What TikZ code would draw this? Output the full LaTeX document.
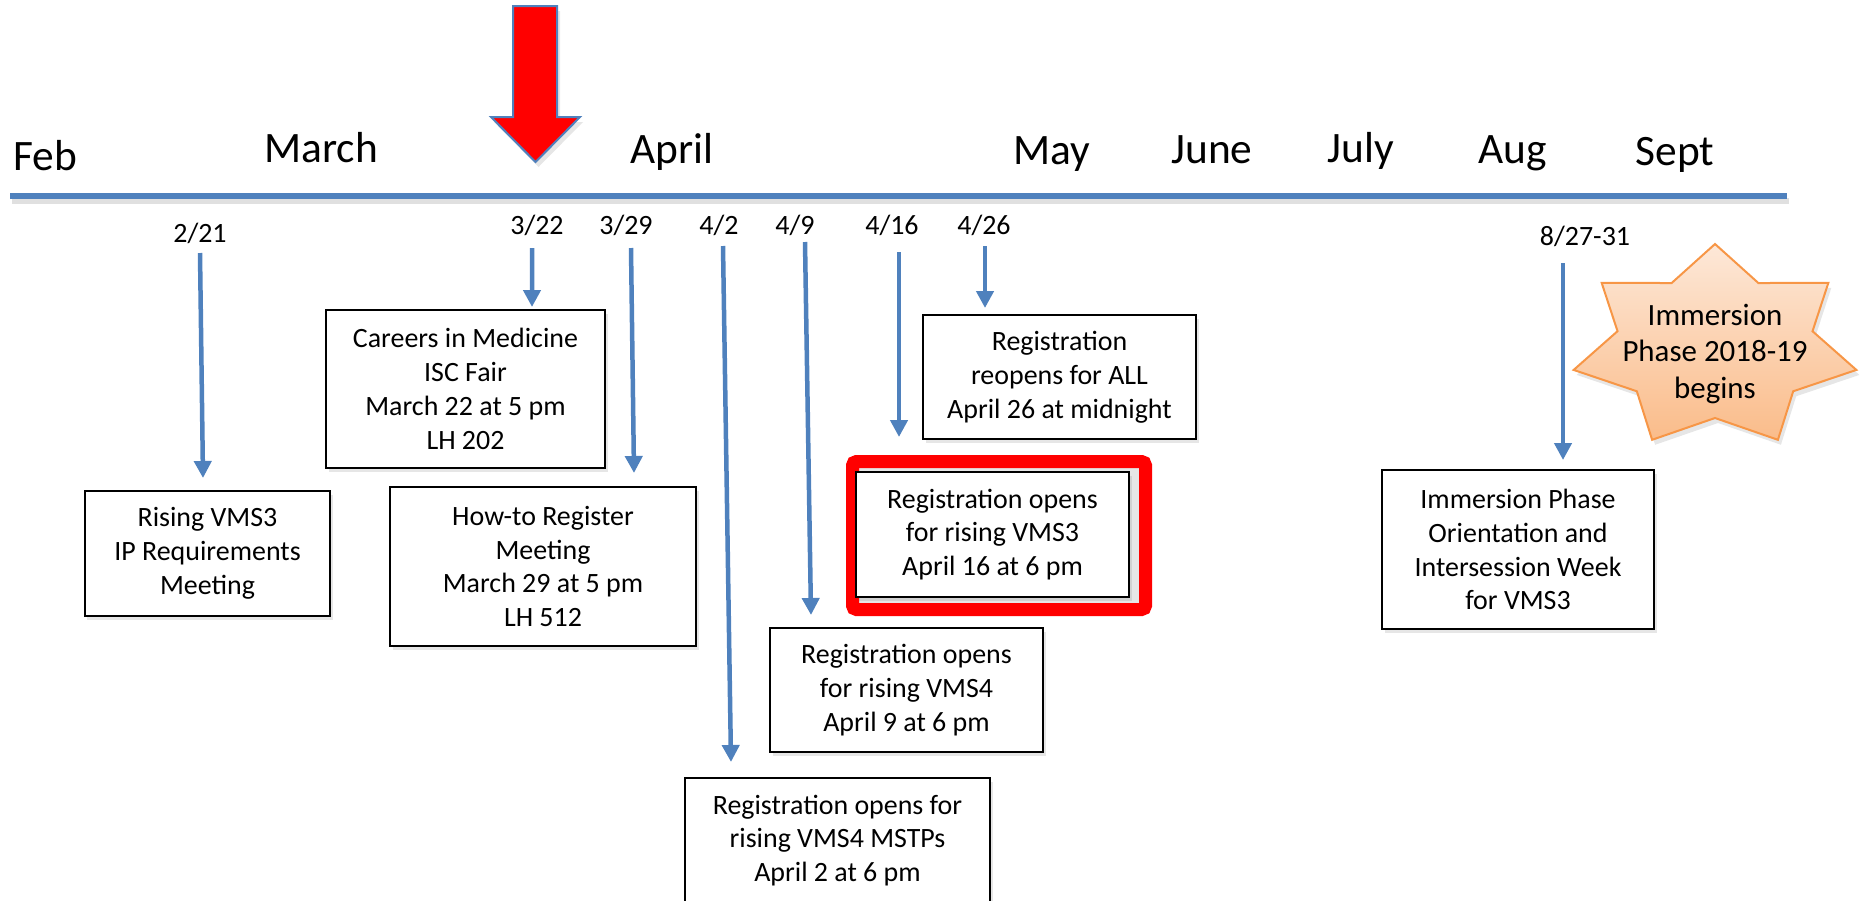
\documentclass[tikz,border=0pt]{standalone}
\usepackage{fontspec}
\setmainfont{Carlito}
\usetikzlibrary{arrows.meta}
\usetikzlibrary{shadows}
\definecolor{azul}{RGB}{79,129,189}
\definecolor{naranja}{RGB}{247,150,70}
\definecolor{durazno}{RGB}{253,232,216}
\definecolor{salmon}{RGB}{250,188,138}

\begin{document}
\begin{tikzpicture}[x=0.2mm, y=-0.2mm,
    mes/.style={anchor=base, inner sep=0pt, font=\fontsize{24.7}{29}\selectfont},
    fecha/.style={anchor=base, inner sep=0pt, font=\fontsize{15.9}{19.3}\selectfont},
    caja/.style={draw=black, line width=0.4mm, fill=white, align=center, inner sep=0pt, outer sep=0pt,
        font=\fontsize{15.9}{19.3}\selectfont,
        drop shadow={shadow xshift=0.5mm, shadow yshift=-0.7mm, opacity=0.2}},
    marcorojo/.style={draw=red, line width=2.6mm, rounded corners=0.8mm, inner sep=0pt, outer sep=0pt,
        drop shadow={shadow xshift=0.5mm, shadow yshift=-0.9mm, opacity=0.2}},
    flecha/.style={azul, line width=0.9mm, -{Triangle[length=3.4mm, width=3.4mm]}},
    flecharoja/.style={fill=red, draw=azul, line width=0.4mm,
        drop shadow={shadow xshift=0.6mm, shadow yshift=-1mm, opacity=0.2}},
    estrella/.style={draw=naranja, line width=0.4mm, top color=durazno, bottom color=salmon,
        drop shadow={shadow xshift=0.6mm, shadow yshift=-1mm, opacity=0.2}},
    textoestrella/.style={align=center, inner sep=0pt, font=\fontsize{17.6}{20.5}\selectfont}]

    % Marco
    \useasboundingbox (0,0) rectangle (1866,900);
    \clip (0,0) rectangle (1866,900);

    % Linea de tiempo
    \draw[line width=1.1mm, black!12] (12,201) -- (1789,201);
    \draw[azul, line width=1.1mm] (10,196) -- (1787,196);

    % Meses
    \foreach \m/\x/\y in {Feb/45/170, March/321/162, April/672/163, May/1052/164,
                          June/1212/163, July/1361/162, Aug/1513/163, Sept/1675/165}
        \node[mes] (m\m) at (\x,\y) {\m};

    % Flecha roja (semana actual)
    \draw[flecharoja] (513,6) -- (557,6) -- (557,117) -- (580,117) -- (535.5,162)
        -- (491,117) -- (513,117) -- cycle;

    % Fechas
    \node[fecha] (f221) at (200,242) {2/21};
    \node[fecha] (f322) at (537,234) {3/22};
    \node[fecha] (f329) at (626,234) {3/29};
    \node[fecha] (f42) at (719,234) {4/2};
    \node[fecha] (f49) at (795,234) {4/9};
    \node[fecha] (f416) at (892,234) {4/16};
    \node[fecha] (f426) at (984,234) {4/26};
    \node[fecha] (f827) at (1585,245) {8/27-31};

    % Cajas de eventos
    \node[caja, minimum width=49mm, minimum height=25mm] (rising) at (207.5,553.5)
        {Rising VMS3\\IP Requirements\\Meeting};
    \node[caja, minimum width=55.8mm, minimum height=31.6mm] (careers) at (465.5,389)
        {Careers in Medicine\\ISC Fair\\March 22 at 5 pm\\LH 202};
    \node[caja, minimum width=61.2mm, minimum height=31.8mm] (howto) at (543,566.5)
        {How-to Register\\Meeting\\March 29 at 5 pm\\LH 512};
    \node[caja, minimum width=61mm, minimum height=25mm] (mstps) at (837.5,840.5)
        {Registration opens for\\rising VMS4 MSTPs\\April 2 at 6 pm};
    \node[caja, minimum width=54.6mm, minimum height=24.8mm] (vms4) at (906.5,690)
        {Registration opens\\for rising VMS4\\April 9 at 6 pm};
    \node[marcorojo, minimum width=58.6mm, minimum height=29.6mm] (marco) at (999,535.5) {};
    \node[caja, minimum width=54.6mm, minimum height=25mm] (vms3) at (992.5,534.5)
        {Registration opens\\for rising VMS3\\April 16 at 6 pm};
    \node[caja, minimum width=54.6mm, minimum height=24.8mm] (reabre) at (1059.5,377)
        {Registration\\reopens for ALL\\April 26 at midnight};
    \node[caja, minimum width=54.4mm, minimum height=31.8mm] (orient) at (1518,549.5)
        {Immersion Phase\\Orientation and\\Intersession Week\\for VMS3};

    % Estrella
    \draw[estrella] plot[samples at={0,1,...,13}, variable=\k]
        ({1715+(mod(\k,2)==0 ? 145 : 100)*cos(90+\k*360/14)},
         {347-(mod(\k,2)==0 ? 103 : 71)*sin(90+\k*360/14)}) -- cycle;
    \node[textoestrella] (inicio) at (1715,354) {Immersion\\Phase 2018-19\\begins};

    % Flechas de fecha a evento
    \foreach \d/\c/\sx/\sy/\tx/\ty in {f221/rising/0/11/-4.5/-13, f322/careers/-5/14/66.5/-3,
            f329/howto/5/14/91/-14, f42/mstps/4/12/-106.5/-16, f49/vms4/10/8/-95.5/-13,
            f416/marco/7/18/-100/-24.5, f426/reabre/1/12/-74.5/-7, f827/orient/-22/18/45/-10}
        \draw[flecha] ([shift={(\sx,\sy)}]\d.base) -- ([shift={(\tx,\ty)}]\c.north);
\end{tikzpicture}
\end{document}
